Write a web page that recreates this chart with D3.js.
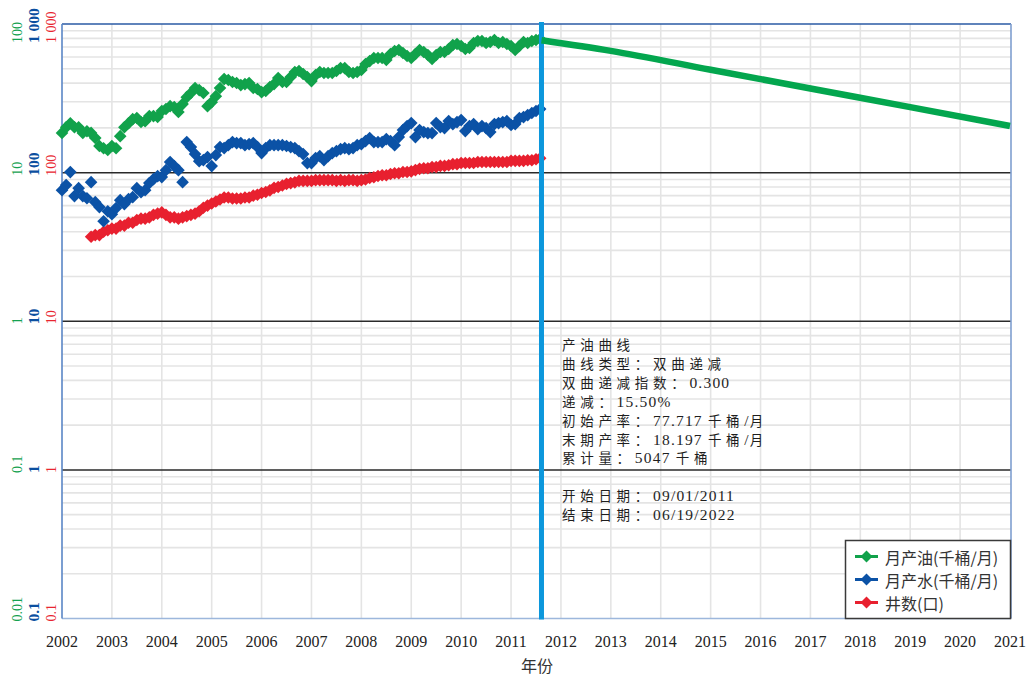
<!DOCTYPE html>
<html>
<head>
<meta charset="utf-8">
<script src="https://cdn.jsdelivr.net/npm/d3@7"></script>
<style>
  body { margin: 0; background: #fff; }
  svg { display: block; }
</style>
</head>
<body>
<svg id="chart" width="1032" height="682"></svg>
<script>
// Monthly production history, first month = Jan 2002
const historyStartYear = 2002;

// 月产油 (千桶/月)
const oilRate = [
  18.5, 20.2, 21.5, 20.2, 20.2, 18.5, 19.0, 18.5, 17.1, 15.1, 14.6, 14.2,
  15.1, 14.6, 17.6, 20.2, 21.5, 22.9, 23.3, 21.9, 22.2, 24.0, 24.0, 23.7,
  26.0, 26.8, 28.0, 27.6, 25.6, 28.9, 32.2, 34.3, 37.1, 35.9, 34.3, 28.0,
  29.8, 32.7, 37.1, 42.6, 42.0, 40.7, 40.1, 38.8, 39.4, 40.1, 37.1, 36.5,
  34.8, 35.4, 37.7, 39.4, 43.3, 40.7, 40.7, 44.0, 47.5, 48.3, 46.1, 44.0,
  41.3, 45.3, 47.5, 46.8, 46.8, 46.8, 48.3, 50.5, 50.5, 47.5, 46.8, 47.5,
  49.0, 53.8, 56.3, 59.0, 59.0, 59.0, 57.2, 62.8, 65.8, 66.8, 63.8, 60.9,
  59.0, 62.8, 66.8, 64.8, 61.8, 58.1, 61.8, 64.8, 64.8, 67.9, 72.2, 73.3,
  71.1, 67.9, 68.9, 74.5, 76.8, 76.8, 74.5, 75.6, 78.0, 74.5, 75.6, 73.3,
  71.1, 66.8, 71.1, 75.6, 74.5, 76.8, 78.0, 79.3
];

// 月产水 (千桶/月)
const waterRate = [
  76.2, 82.4, 100.8, 69.5, 78.6, 69.5, 67.3, 86.3, 63.3, 58.6, 47.1, 55.0,
  52.5, 57.7, 65.3, 61.4, 66.3, 68.4, 78.6, 73.9, 76.2, 85.0, 90.4, 94.7,
  93.3, 103.9, 117.7, 110.6, 103.9, 86.3, 160.5, 148.5, 133.2, 119.5, 121.4, 127.2,
  110.6, 131.2, 148.5, 146.2, 153.1, 160.5, 158.0, 158.0, 153.1, 155.5, 158.0, 148.5,
  135.3, 146.2, 153.1, 153.1, 153.1, 153.1, 150.9, 148.5, 146.2, 139.5, 133.2, 115.9,
  115.9, 125.2, 129.1, 121.4, 129.1, 135.3, 139.5, 143.9, 146.2, 143.9, 146.2, 153.1,
  155.5, 163.0, 170.8, 160.5, 160.5, 160.5, 168.1, 163.0, 153.1, 173.4, 193.3, 205.6,
  215.4, 173.4, 193.3, 187.4, 184.5, 184.5, 215.4, 202.5, 199.4, 222.2, 212.1, 218.8,
  225.7, 190.3, 205.6, 212.1, 196.3, 205.6, 199.4, 187.4, 212.1, 215.4, 218.8, 222.2,
  208.9, 212.1, 232.8, 236.4, 243.8, 251.6, 259.5, 267.6
];

// 井数 (口), first month = Aug 2002
const wellFirstMonth = 7;
const wellCount = [
  37, 38, 38, 40, 41,
  42, 42, 44, 44, 46, 46, 48, 49, 49, 50, 52, 53,
  54, 52, 50, 50, 49, 50, 51, 52, 53, 55, 58, 60,
  62, 64, 66, 68, 68, 67, 67, 67, 68, 68, 70, 71,
  73, 74, 76, 79, 80, 82, 84, 85, 86, 88, 88, 88,
  88, 89, 89, 89, 89, 89, 88, 89, 88, 89, 89, 88,
  89, 90, 92, 93, 95, 96, 96, 98, 99, 99, 101, 101,
  102, 104, 106, 107, 107, 109, 109, 111, 111, 112, 114, 114,
  116, 116, 116, 116, 118, 118, 118, 118, 118, 118, 118, 118,
  120, 120, 120, 120, 121, 121, 123, 125
];

// Hyperbolic oil forecast (千桶/月), from the start of the forecast period
const forecastYears = [2011.61, 2013, 2015, 2017, 2019, 2021];
const forecastOil   = [77.717, 65.9, 49.2, 36.8, 27.6, 20.6];

// Axis tick labels
const yearLabels = ["2002","2003","2004","2005","2006","2007","2008","2009","2010",
  "2011","2012","2013","2014","2015","2016","2017","2018","2019","2020","2021"];
const decadeValues     = [0.1, 1, 10, 100, 1000];
const oilTickLabels    = ["0.01", "0.1", "1", "10", "100"];
const waterTickLabels  = ["0.1", "1", "10", "100", "1 000"];
const wellTickLabels   = ["0.1", "1", "10", "100", "1 000"];

const legendLabels = ["月产油(千桶/月)", "月产水(千桶/月)", "井数(口)"];
const noteLines = [
  "产油曲线",
  "曲线类型：双曲递减",
  "双曲递减指数：0.300",
  "递减：15.50%",
  "初始产率：77.717 千桶/月",
  "末期产率：18.197 千桶/月",
  "累计量：5047 千桶",
  "",
  "开始日期：09/01/2011",
  "结束日期：06/19/2022"
];
const xTitle = "年份";

// ---------------------------------------------------------------
const colors = {
  oil: "#11a24b",
  oilLine: "#03a64e",
  water: "#0b52a6",
  well: "#e8202f",
  marker: "#0c97dc",
  oilText: "#14a150",
  waterText: "#0b4fa0",
  wellText: "#e8252f"
};

const svg = d3.select("#chart");
const plot = { left: 62, right: 1011, top: 24, bottom: 618.5 };

const x = d3.scaleLinear().domain([2002, 2021]).range([62, 1010]);
const yWater = d3.scaleLog().domain([0.1, 1000]).range([plot.bottom, plot.top]);
const yOil = d3.scaleLog().domain([0.01, 100]).range([plot.bottom, plot.top]);
const yWell = d3.scaleLog().domain([0.1, 1000]).range([plot.bottom, plot.top]);

const monthYear = i => historyStartYear + i / 12;

const serifCjk = '"Liberation Serif", "Times New Roman", "Noto Sans CJK SC", serif';
const sansCjk = '"Noto Sans CJK SC", "Noto Sans", sans-serif';

// Grid: yearly verticals
const grid = svg.append("g");
grid.selectAll("line.vx")
  .data(d3.range(2003, 2021))
  .join("line")
  .attr("x1", d => x(d)).attr("x2", d => x(d))
  .attr("y1", plot.top).attr("y2", plot.bottom)
  .attr("stroke", "#e4e4e4").attr("stroke-width", 1.6);

// Grid: minor log lines inside each decade
const minorTicks = yWater.ticks().filter(v => {
  const l = Math.log10(v);
  return Math.abs(l - Math.round(l)) > 1e-6;
});
grid.selectAll("line.hm")
  .data(minorTicks)
  .join("line")
  .attr("x1", plot.left).attr("x2", plot.right)
  .attr("y1", d => yWater(d)).attr("y2", d => yWater(d))
  .attr("stroke", "#e4e4e4").attr("stroke-width", 1.6);

// Decade lines
grid.selectAll("line.hd")
  .data([1, 10, 100])
  .join("line")
  .attr("x1", plot.left).attr("x2", plot.right)
  .attr("y1", d => yWater(d)).attr("y2", d => yWater(d))
  .attr("stroke", "#2a2a2a").attr("stroke-width", 1.5);

// Plot frame
const frame = svg.append("g").attr("fill", "none");
frame.append("line").attr("x1", plot.left).attr("x2", plot.right)
  .attr("y1", plot.top).attr("y2", plot.top)
  .attr("stroke", "#2a5aa5").attr("stroke-width", 1.6);
frame.append("line").attr("x1", plot.left).attr("x2", plot.right)
  .attr("y1", plot.bottom).attr("y2", plot.bottom)
  .attr("stroke", "#9db7dc").attr("stroke-width", 1.6);
frame.append("line").attr("x1", plot.left).attr("x2", plot.left)
  .attr("y1", plot.top).attr("y2", plot.bottom)
  .attr("stroke", "#5a86c6").attr("stroke-width", 1.6);
frame.append("line").attr("x1", plot.right).attr("x2", plot.right)
  .attr("y1", plot.top).attr("y2", plot.bottom)
  .attr("stroke", "#7f9fd0").attr("stroke-width", 1.6);

// Diamond marker
const diamond = r => `M0,${-r}L${r},0L0,${r}L${-r},0Z`;
const markerR = 6.3;

function drawSeries(values, firstMonth, yScale, color) {
  const pts = values.map((v, i) => ({ t: monthYear(firstMonth + i), v }));
  svg.append("g")
    .selectAll("path")
    .data(pts)
    .join("path")
    .attr("d", diamond(markerR))
    .attr("transform", d => `translate(${x(d.t)},${yScale(d.v)})`)
    .attr("fill", color);
}

drawSeries(wellCount, wellFirstMonth, yWell, colors.well);
drawSeries(waterRate, 0, yWater, colors.water);
drawSeries(oilRate, 0, yOil, colors.oil);

// Forecast start marker line
svg.append("line")
  .attr("x1", x(forecastYears[0])).attr("x2", x(forecastYears[0]))
  .attr("y1", plot.top - 2).attr("y2", plot.bottom + 1)
  .attr("stroke", colors.marker).attr("stroke-width", 5);

// Oil forecast curve
const forecast = forecastYears.map((t, i) => ({ t, v: forecastOil[i] }));
svg.append("path")
  .datum(forecast)
  .attr("fill", "none")
  .attr("stroke", colors.oilLine)
  .attr("stroke-width", 6.5)
  .attr("d", d3.line().x(d => x(d.t)).y(d => yOil(d.v)).curve(d3.curveMonotoneX));

// Left axes: three rotated label columns
const axisCols = [
  { labels: oilTickLabels, cx: 17, color: colors.oilText, size: 14, weight: "normal" },
  { labels: waterTickLabels, cx: 33, color: colors.waterText, size: 15.5, weight: "bold" },
  { labels: wellTickLabels, cx: 51, color: colors.wellText, size: 14, weight: "normal" }
];
axisCols.forEach(col => {
  svg.append("g").selectAll("text")
    .data(decadeValues)
    .join("text")
    .attr("transform", (d, i) => {
      const yy = yWater(d) + (i === decadeValues.length - 1 ? 19 : 3);
      return `translate(${col.cx},${yy}) rotate(-90)`;
    })
    .attr("dominant-baseline", "central")
    .attr("text-anchor", "start")
    .attr("font-family", serifCjk)
    .attr("font-size", col.size)
    .attr("font-weight", col.weight)
    .attr("fill", col.color)
    .text((d, i) => col.labels[i]);
});

// Bottom axis labels
svg.append("g").selectAll("text")
  .data(yearLabels)
  .join("text")
  .attr("x", d => x(+d))
  .attr("y", 641)
  .attr("text-anchor", "middle")
  .attr("dominant-baseline", "central")
  .attr("font-family", serifCjk)
  .attr("font-size", 16)
  .attr("fill", "#222")
  .text(d => d);

svg.append("text")
  .attr("x", 537).attr("y", 665)
  .attr("text-anchor", "middle")
  .attr("dominant-baseline", "central")
  .attr("font-family", sansCjk)
  .attr("font-size", 16)
  .attr("fill", "#333")
  .text(xTitle);

// Forecast parameters note; CJK and Latin runs get separate spacing
const cjkRun = /[\u3000-\u9fff\uff00-\uffef]+|[^\u3000-\u9fff\uff00-\uffef]+/g;
const note = svg.append("g");
noteLines.forEach((line, k) => {
  if (!line) return;
  const t = note.append("text")
    .attr("x", 562).attr("y", 344 + k * 18.9)
    .attr("dominant-baseline", "central")
    .attr("font-family", serifCjk)
    .attr("font-size", 13)
    .attr("fill", "#1e1e1e");
  (line.match(cjkRun) || []).forEach(run => {
    const isCjk = /[\u3000-\u9fff\uff00-\uffef]/.test(run);
    t.append("tspan")
      .attr("font-family", isCjk ? sansCjk : serifCjk)
      .attr("font-size", isCjk ? 13.5 : 15.5)
      .attr("letter-spacing", isCjk ? 4.7 : 1.2)
      .text(run);
  });
});

// Legend
const legend = svg.append("g");
legend.append("rect")
  .attr("x", 845.5).attr("y", 540.5).attr("width", 165).attr("height", 78)
  .attr("fill", "#fff").attr("stroke", "#3a3a3a").attr("stroke-width", 1.5);
const legendColors = [colors.oil, colors.water, colors.well];
legendLabels.forEach((lab, i) => {
  const yy = 556.5 + i * 23;
  legend.append("line")
    .attr("x1", 855).attr("x2", 878).attr("y1", yy).attr("y2", yy)
    .attr("stroke", legendColors[i]).attr("stroke-width", 3);
  legend.append("path")
    .attr("d", diamond(6))
    .attr("transform", `translate(866.5,${yy})`)
    .attr("fill", legendColors[i]);
  legend.append("text")
    .attr("x", 885).attr("y", yy)
    .attr("dominant-baseline", "central")
    .attr("font-family", sansCjk)
    .attr("font-size", 16)
    .attr("fill", "#333")
    .text(lab);
});
</script>
</body>
</html>
